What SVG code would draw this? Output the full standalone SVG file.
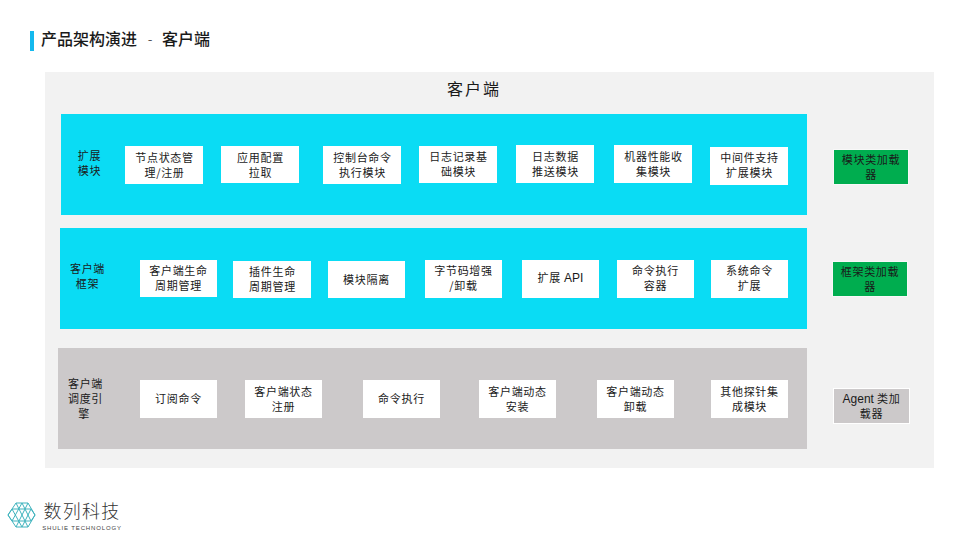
<svg xmlns="http://www.w3.org/2000/svg" width="960" height="540" viewBox="0 0 960 540">
<style>
text{font-family:"Noto Sans CJK SC","Liberation Sans",sans-serif;text-anchor:middle;fill:#1a1a1a}
.l{font-size:11px;letter-spacing:.7px;font-weight:400}
.box rect{fill:#fff;stroke:none}
.band{stroke:none}
.logo{fill:none;stroke:#3fb3bd;stroke-width:1}
.lat{font-family:"Liberation Sans",sans-serif;font-size:12px;letter-spacing:0}
</style>
<rect width="960" height="540" fill="#fff"/>
<rect x="30" y="31" width="4" height="20" fill="#14b9ee"/>
<g id="title">
<text x="41" y="45" style="text-anchor:start;font-size:16px;font-weight:500">产品架构演进</text>
<text x="150" y="44" style="font-size:14px;font-weight:300">-</text>
<text x="162" y="45" style="text-anchor:start;font-size:16px;font-weight:500">客户端</text>
</g>
<rect id="panel" x="45" y="72" width="889" height="396" fill="#f2f2f2"/>
<text x="474" y="95" style="font-size:16px;letter-spacing:2px;font-weight:400">客户端</text>
<rect class="band" x="61" y="114" width="746" height="101" fill="#0adcf4"/>
<rect class="band" x="60" y="228" width="747" height="101" fill="#0adcf4"/>
<rect class="band" x="58" y="348" width="749" height="101" fill="#ccc9ca"/>
<g id="row-labels">
<text class="l" x="89.500" y="160">扩展</text><text class="l" x="89.500" y="175">模块</text>
<text class="l" x="87.500" y="273">客户端</text><text class="l" x="87.500" y="288">框架</text>
<text class="l" x="85.500" y="388">客户端</text><text class="l" x="85.500" y="403">调度引</text><text class="l" x="84" y="418">擎</text>
</g>
<g id="n1" class="box"><rect x="125" y="146" width="78" height="38"/><text class="l" x="164.500" y="162">节点状态管</text><text class="l" x="164.500" y="177">理/注册</text></g>
<g id="n2" class="box"><rect x="221" y="146" width="78" height="37"/><text class="l" x="260.500" y="162">应用配置</text><text class="l" x="260.500" y="177">拉取</text></g>
<g id="n3" class="box"><rect x="323" y="146" width="78" height="38"/><text class="l" x="362.500" y="162">控制台命令</text><text class="l" x="362.500" y="177">执行模块</text></g>
<g id="n4" class="box"><rect x="419" y="146" width="78" height="37"/><text class="l" x="458.500" y="161">日志记录基</text><text class="l" x="458.500" y="176">础模块</text></g>
<g id="n5" class="box"><rect x="516" y="145" width="78" height="38"/><text class="l" x="555.500" y="161">日志数据</text><text class="l" x="555.500" y="176">推送模块</text></g>
<g id="n6" class="box"><rect x="614" y="145" width="78" height="38"/><text class="l" x="653.500" y="161">机器性能收</text><text class="l" x="653.500" y="176">集模块</text></g>
<g id="n7" class="box"><rect x="710" y="147" width="78" height="38"/><text class="l" x="749.500" y="162">中间件支持</text><text class="l" x="749.500" y="177">扩展模块</text></g>
<g id="n8" class="box"><rect x="140" y="260" width="77" height="37"/><text class="l" x="178.500" y="275">客户端生命</text><text class="l" x="178.500" y="290">周期管理</text></g>
<g id="n9" class="box"><rect x="233" y="261" width="78" height="37"/><text class="l" x="272.500" y="276">插件生命</text><text class="l" x="272.500" y="291">周期管理</text></g>
<g id="n10" class="box"><rect x="328" y="261" width="77" height="37"/><text class="l" x="366.500" y="284">模块隔离</text></g>
<g id="n11" class="box"><rect x="425" y="260" width="77" height="38"/><text class="l" x="463.500" y="275">字节码增强</text><text class="l" x="463.500" y="290">/卸载</text></g>
<g id="n12" class="box"><rect x="522" y="260" width="77" height="38"/><text class="l" x="560.500" y="282">扩展 <tspan class="lat">API</tspan></text></g>
<g id="n13" class="box"><rect x="617" y="260" width="77" height="38"/><text class="l" x="655.500" y="275">命令执行</text><text class="l" x="655.500" y="290">容器</text></g>
<g id="n14" class="box"><rect x="711" y="260" width="77" height="38"/><text class="l" x="749.500" y="275">系统命令</text><text class="l" x="749.500" y="290">扩展</text></g>
<g id="n15" class="box"><rect x="140" y="380" width="77" height="38"/><text class="l" x="178.500" y="403">订阅命令</text></g>
<g id="n16" class="box"><rect x="245" y="380" width="77" height="38"/><text class="l" x="283.500" y="396">客户端状态</text><text class="l" x="283.500" y="411">注册</text></g>
<g id="n17" class="box"><rect x="363" y="380" width="77" height="38"/><text class="l" x="401.500" y="403">命令执行</text></g>
<g id="n18" class="box"><rect x="479" y="380" width="77" height="38"/><text class="l" x="517.500" y="396">客户端动态</text><text class="l" x="517.500" y="411">安装</text></g>
<g id="n19" class="box"><rect x="597" y="380" width="77" height="38"/><text class="l" x="635.500" y="396">客户端动态</text><text class="l" x="635.500" y="411">卸载</text></g>
<g id="n20" class="box"><rect x="711" y="380" width="77" height="38"/><text class="l" x="749.500" y="396">其他探针集</text><text class="l" x="749.500" y="411">成模块</text></g>
<g id="loader1"><rect x="833.500" y="149.500" width="75" height="35" fill="#00ad4f" stroke="#f8f8f8"/><text class="l" x="871" y="164">模块类加载</text><text class="l" x="871" y="179">器</text></g>
<g id="loader2"><rect x="832.500" y="261.500" width="75" height="35" fill="#00ad4f" stroke="#f8f8f8"/><text class="l" x="870" y="276">框架类加载</text><text class="l" x="870" y="291">器</text></g>
<g id="loader3"><rect x="833.500" y="388.500" width="76" height="35" fill="#ccc9ca" stroke="#fff"/><text class="l" x="871.500" y="403"><tspan class="lat">Agent</tspan> 类加</text><text class="l" x="871.500" y="418">载器</text></g>
<g id="logo">
<path class="logo" d="M8 515L16 503H28L35 515L28 527H16Z"/>
<path class="logo" d="M16 503L28 527M28 503L16 527M8 515L12 509L22 527M8 515L12 521L22 503M35 515L31 509L22 527M35 515L31 521L22 503M12 521H31M12 509H31"/>
<text x="82" y="518" style="font-size:18px;letter-spacing:1.3px;font-weight:300;fill:#333">数列科技</text>
<text x="82" y="530" style="font-size:6px;letter-spacing:.85px;fill:#444;font-family:'Liberation Sans',sans-serif">SHULIE TECHNOLOGY</text>
</g>
</svg>
